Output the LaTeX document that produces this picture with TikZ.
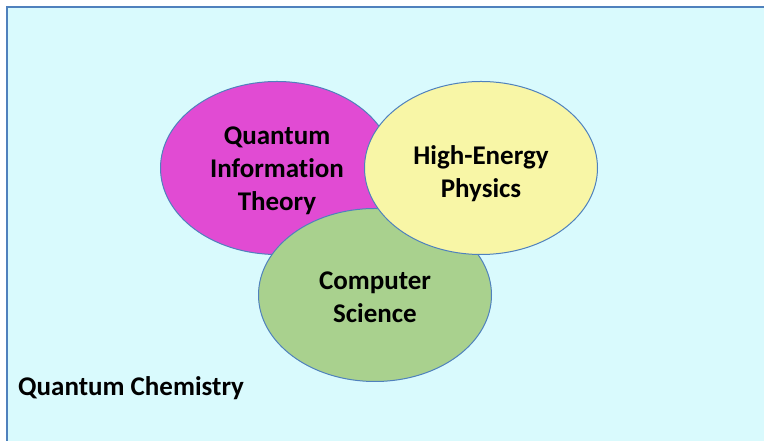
\documentclass[tikz,border=0pt]{standalone}
\usepackage{xcolor}
\usepackage{fontspec}
\setmainfont[Ligatures=NoCommon]{Carlito}
\usepackage{tikz}
\usetikzlibrary{shapes.geometric, positioning}

\definecolor{panelcyan}{HTML}{D9FAFD}
\definecolor{edgeblue}{HTML}{4F81BD}
\definecolor{qitpink}{HTML}{E14BD3}
\definecolor{hepyellow}{HTML}{F8F6A6}
\definecolor{csgreen}{HTML}{A9D18E}

\tikzset{
  field/.style={ellipse, draw=edgeblue, line width=1pt, inner sep=0pt,
    minimum width=233pt, minimum height=173pt},
  fieldtext/.style={align=center, inner sep=0pt,
    font=\fontsize{27}{33}\selectfont\bfseries},
}

\begin{document}
\begin{tikzpicture}[x=1pt, y=1pt, node distance=2cm, on grid]
        \useasboundingbox (0,0) rectangle (764,441);
        \clip (0,0) rectangle (764,441);
        \draw[edgeblue, line width=2pt, fill=panelcyan] (7,-10) rectangle (790,434);

        \node[field, fill=qitpink] (qit) at (277,273) {};
        \node[field, fill=csgreen] (cs) [below right=127pt and 98pt of qit] {};
        \node[field, fill=hepyellow] (hep) [right=204pt of qit] {};

        \node[fieldtext] (qit-text) at ([yshift=-3pt]qit.center) {Quantum\\Information\\Theory};
        \node[fieldtext] (cs-text) at ([yshift=-2pt]cs.center) {Computer\\Science};
        \node[fieldtext] (hep-text) at ([yshift=-6pt]hep.center) {High-Energy\\Physics};

        \node[fieldtext, anchor=west] (qc) at (18,53) {Quantum Chemistry};

    \end{tikzpicture}
\end{document}
